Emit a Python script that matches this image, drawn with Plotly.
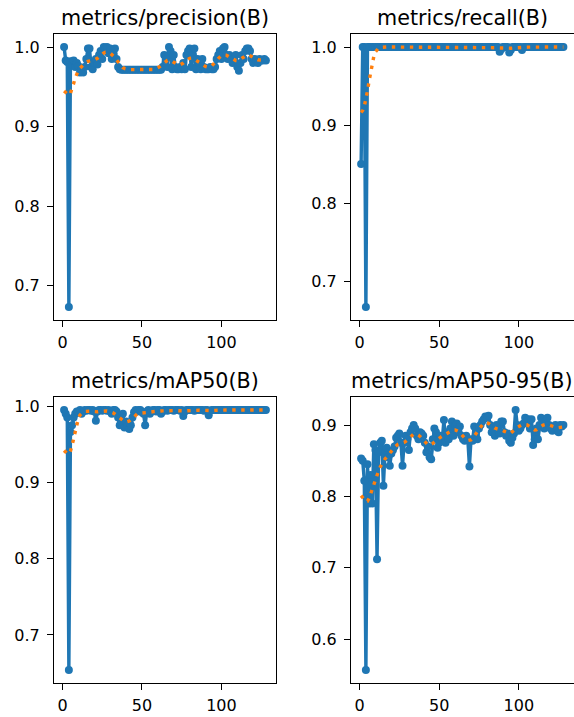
import numpy as np
import plotly.graph_objects as go
from plotly.subplots import make_subplots

# ---------------- data ----------------
epochs = list(range(1, 129))

precision = [
    1.000, 0.983, 0.981, 0.673, 0.982, 0.978, 0.983, 0.975, 0.980, 0.976,
    0.968, 0.972, 0.968, 0.975, 0.985, 0.998, 0.998, 0.975, 0.972, 0.980,
    0.985, 0.978, 0.990, 0.995, 0.985, 1.000, 0.998, 1.000, 0.992, 0.998,
    0.985, 0.992, 0.998, 0.985, 0.975, 0.972, 0.9715, 0.9715, 0.9715, 0.9715,
    0.9715, 0.9715, 0.9715, 0.9715, 0.9715, 0.9715, 0.9715, 0.9715, 0.9715, 0.9715,
    0.9715, 0.9715, 0.9715, 0.9715, 0.9715, 0.9715, 0.9715, 0.9715, 0.9715, 0.9715,
    0.9715, 0.9715, 0.975, 0.990, 0.985, 0.975, 1.000, 0.995, 0.972, 0.990,
    0.975, 0.972, 0.972, 0.975, 0.972, 0.980, 0.972, 0.990, 0.995, 0.998,
    0.975, 0.990, 0.998, 0.972, 0.985, 0.980, 0.972, 0.985, 0.975, 0.972,
    0.972, 0.972, 0.975, 0.972, 0.972, 0.975, 0.985, 0.990, 0.995, 0.985,
    0.998, 1.000, 0.990, 0.985, 0.990, 0.985, 0.980, 0.985, 0.990, 0.975,
    0.970, 0.980, 0.990, 0.985, 0.995, 0.998, 0.998, 0.995, 0.985, 0.980,
    0.985, 0.983, 0.980, 0.985, 0.983, 0.983, 0.985, 0.983,
]

recall = [
    0.850, 1.000, 1.000, 0.667, 1.000, 1.000, 1.000, 1.000, 1.000, 1.000,
    1.000, 1.000, 1.000, 1.000, 1.000, 1.000, 1.000, 1.000, 1.000, 1.000,
    1.000, 1.000, 1.000, 1.000, 1.000, 1.000, 1.000, 1.000, 1.000, 1.000,
    1.000, 1.000, 1.000, 1.000, 1.000, 1.000, 1.000, 1.000, 1.000, 1.000,
    1.000, 1.000, 1.000, 1.000, 1.000, 1.000, 1.000, 1.000, 1.000, 1.000,
    1.000, 1.000, 1.000, 1.000, 1.000, 1.000, 1.000, 1.000, 1.000, 1.000,
    1.000, 1.000, 1.000, 1.000, 1.000, 1.000, 1.000, 1.000, 1.000, 1.000,
    1.000, 1.000, 1.000, 1.000, 1.000, 1.000, 1.000, 1.000, 1.000, 1.000,
    1.000, 1.000, 1.000, 1.000, 1.000, 1.000, 1.000, 0.994, 0.997, 1.000,
    1.000, 1.000, 1.000, 0.993, 0.996, 1.000, 1.000, 1.000, 1.000, 1.000,
    1.000, 0.996, 1.000, 1.000, 1.000, 1.000, 1.000, 1.000, 1.000, 1.000,
    1.000, 1.000, 1.000, 1.000, 1.000, 1.000, 1.000, 1.000, 1.000, 1.000,
    1.000, 1.000, 1.000, 1.000, 1.000, 1.000, 1.000, 1.000,
]

map50 = [
    0.995, 0.990, 0.985, 0.654, 0.966, 0.975, 0.985, 0.990, 0.993, 0.992,
    0.995, 0.990, 0.993, 0.995, 0.994, 0.995, 0.995, 0.994, 0.995, 0.993,
    0.981, 0.993, 0.995, 0.995, 0.994, 0.995, 0.995, 0.994, 0.995, 0.993,
    0.990, 0.995, 0.995, 0.993, 0.985, 0.975, 0.978, 0.990, 0.972, 0.980,
    0.975, 0.970, 0.975, 0.985, 0.992, 0.995, 0.993, 0.995, 0.995, 0.992,
    0.990, 0.975, 0.993, 0.995, 0.990, 0.993, 0.995, 0.995, 0.993, 0.995,
    0.995, 0.990, 0.993, 0.995, 0.995, 0.994, 0.995, 0.995, 0.995, 0.994,
    0.995, 0.995, 0.995, 0.994, 0.995, 0.987, 0.993, 0.995, 0.995, 0.995,
    0.995, 0.995, 0.994, 0.995, 0.995, 0.995, 0.995, 0.995, 0.994, 0.995,
    0.995, 0.988, 0.994, 0.995, 0.995, 0.995, 0.995, 0.995, 0.995, 0.995,
    0.995, 0.995, 0.995, 0.995, 0.995, 0.995, 0.995, 0.995, 0.995, 0.995,
    0.995, 0.995, 0.995, 0.995, 0.995, 0.995, 0.995, 0.995, 0.995, 0.995,
    0.995, 0.995, 0.995, 0.995, 0.995, 0.995, 0.995, 0.995,
]

map50_95 = [
    0.853, 0.850, 0.822, 0.557, 0.845, 0.790, 0.830, 0.790, 0.873, 0.865,
    0.712, 0.862, 0.875, 0.878, 0.815, 0.862, 0.868, 0.855, 0.843, 0.860,
    0.865, 0.870, 0.882, 0.885, 0.888, 0.875, 0.843, 0.875, 0.885, 0.880,
    0.865, 0.890, 0.895, 0.900, 0.895, 0.885, 0.880, 0.890, 0.888, 0.885,
    0.875, 0.862, 0.870, 0.855, 0.852, 0.880, 0.895, 0.890, 0.868, 0.875,
    0.885, 0.880, 0.907, 0.875, 0.890, 0.880, 0.895, 0.905, 0.885, 0.900,
    0.902, 0.890, 0.898, 0.885, 0.880, 0.878, 0.885, 0.880, 0.842, 0.880,
    0.878, 0.898, 0.885, 0.880, 0.895, 0.900, 0.905, 0.908, 0.912, 0.910,
    0.913, 0.900, 0.890, 0.895, 0.885, 0.900, 0.890, 0.888, 0.905, 0.905,
    0.890, 0.885, 0.888, 0.878, 0.875, 0.882, 0.888, 0.921, 0.900, 0.892,
    0.895, 0.900, 0.902, 0.910, 0.905, 0.908, 0.895, 0.908, 0.872, 0.880,
    0.895, 0.880, 0.900, 0.910, 0.905, 0.895, 0.908, 0.910, 0.900, 0.895,
    0.892, 0.895, 0.900, 0.892, 0.890, 0.900, 0.898, 0.900,
]

titles = ["metrics/precision(B)", "metrics/recall(B)",
          "metrics/mAP50(B)", "metrics/mAP50-95(B)"]
series = [precision, recall, map50, map50_95]


def smooth(y, sigma=3.0, truncate=4.0):
    """Gaussian smoothing (same as scipy.ndimage.gaussian_filter1d, reflect mode)."""
    y = np.asarray(y, dtype=float)
    r = int(truncate * sigma + 0.5)
    k = np.exp(-0.5 * (np.arange(-r, r + 1) / sigma) ** 2)
    k /= k.sum()
    yp = np.pad(y, r, mode="symmetric")
    return np.convolve(yp, k, mode="valid")


W, H = 574, 717
BLUE = "#1f77b4"
ORANGE = "#ff7f0e"
FONT = "DejaVu Sans"

# panel boxes in pixels (left, right, top, bottom)
boxes = [(54, 276, 34, 320), (351, 573.5, 34, 320),
         (54, 276, 397, 683), (351, 573.5, 397, 683)]

fig = make_subplots(rows=2, cols=2)

for i, (title, y) in enumerate(zip(titles, series)):
    r, c = i // 2 + 1, i % 2 + 1
    fig.add_trace(go.Scatter(
        x=epochs, y=y, mode="lines+markers",
        line=dict(color=BLUE, width=3.4),
        marker=dict(color=BLUE, size=8, line=dict(width=0)),
        showlegend=False, hoverinfo="skip"), row=r, col=c)
    fig.add_trace(go.Scatter(
        x=epochs, y=smooth(y), mode="lines",
        line=dict(color=ORANGE, width=3.4, dash="3.4px,5.6px"),
        showlegend=False, hoverinfo="skip"), row=r, col=c)

    l, rr, t, b = boxes[i]
    xd = [l / W, rr / W]
    yd = [1 - b / H, 1 - t / H]

    xmin, xmax = min(epochs), max(epochs)
    xm = 0.05 * (xmax - xmin)
    ymin, ymax = min(y), max(y)
    ym = 0.05 * (ymax - ymin)

    axis_common = dict(
        showline=True, mirror=True, linecolor="black", linewidth=1,
        ticks="outside", ticklen=6, tickwidth=1, tickcolor="black",
        showgrid=False, zeroline=False,
        tickfont=dict(family=FONT, size=16, color="black"),
    )
    fig.update_xaxes(domain=xd, range=[xmin - xm, xmax + xm],
                     tick0=0, dtick=50, ticklabelstandoff=2,
                     **axis_common, row=r, col=c)
    fig.update_yaxes(domain=yd, range=[ymin - ym, ymax + ym],
                     tick0=0, dtick=0.1, tickformat=".1f",
                     ticklabelstandoff=4,
                     **axis_common, row=r, col=c)

    fig.add_annotation(
        text=title, xref="paper", yref="paper",
        x=(l + rr) / 2 / W, y=1 - (t - 16) / H,
        xanchor="center", yanchor="middle", showarrow=False,
        font=dict(family=FONT, size=20.7, color="black"))

fig.update_layout(
    width=W, height=H,
    margin=dict(l=0, r=0, t=0, b=0),
    paper_bgcolor="white", plot_bgcolor="white",
    font=dict(family=FONT, color="black"),
)

fig.write_html("out.html")
